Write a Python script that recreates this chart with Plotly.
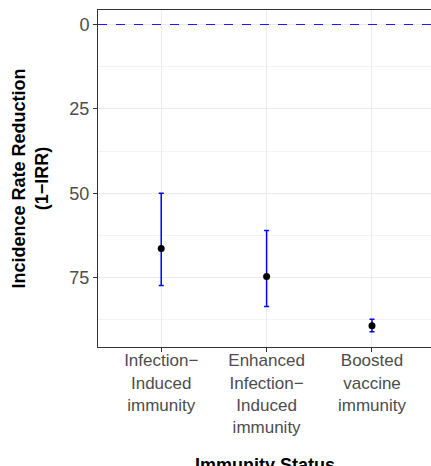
import plotly.graph_objects as go

categories = ["Infection−<br>Induced<br>immunity",
              "Enhanced<br>Infection−<br>Induced<br>immunity",
              "Boosted<br>vaccine<br>immunity"]
estimates = [66.3, 74.6, 89.2]
ci_lower = [50.0, 61.0, 87.3]
ci_upper = [77.3, 83.5, 91.0]
y_ticks = [0, 25, 50, 75]
minor_ticks = [12.5, 37.5, 62.5, 87.5]

W, H = 431, 466
ml, mr, mt, mb = 98, 0, 10, 119

fig = go.Figure()
fig.add_trace(go.Scatter(
    x=categories, y=estimates, mode="markers",
    marker=dict(color="black", size=7),
    error_y=dict(type="data", symmetric=False,
                 array=[u - e for u, e in zip(ci_upper, estimates)],
                 arrayminus=[e - l for e, l in zip(estimates, ci_lower)],
                 color="blue", thickness=1.5, width=2.5),
    showlegend=False, hoverinfo="skip"))

fig.add_hline(y=0, line=dict(color="#1a1aff", width=1.2, dash="dash"))

fig.update_layout(
    width=W, height=H,
    margin=dict(l=ml, r=mr, t=mt, b=mb),
    plot_bgcolor="white", paper_bgcolor="white",
    font=dict(family="Liberation Sans, Arial, sans-serif"),
    xaxis=dict(type="category", range=[-0.6, 2.56], automargin=False,
               showgrid=True, gridcolor="#ebebeb", gridwidth=1,
               showline=True, linecolor="#333333", linewidth=1, mirror=True,
               ticks="outside", ticklen=4, tickcolor="#333333",
               ticklabelstandoff=-6,
               tickfont=dict(size=17, color="#4d4d4d"), zeroline=False),
    yaxis=dict(range=[95.5, -4.3], tickvals=y_ticks, automargin=False,
               showgrid=True, gridcolor="#ebebeb", gridwidth=1,
               minor=dict(tickvals=minor_ticks, showgrid=True, gridcolor="#f3f3f3", gridwidth=0.8, ticks=""),
               showline=True, linecolor="#333333", linewidth=1, mirror=True,
               ticks="outside", ticklen=4, tickcolor="#333333",
               tickfont=dict(size=18, color="#4d4d4d"), zeroline=False),
)

fig.add_annotation(text="<b>Incidence Rate Reduction</b><br><b>(1−IRR)</b>",
                   xref="paper", yref="paper",
                   x=(30 - ml) / (W - ml - mr), y=0.5,
                   xanchor="center", yanchor="middle", textangle=-90,
                   showarrow=False, font=dict(size=18, color="black"))
fig.add_annotation(text="<b>Immunity Status</b>",
                   xref="paper", yref="paper",
                   x=0.5, y=-(453 - (H - mb)) / (H - mt - mb),
                   xanchor="center", yanchor="top",
                   showarrow=False, font=dict(size=18, color="black"))

fig.write_html("out.html", config={"displayModeBar": False},
               post_script="document.body.style.margin='0';document.body.style.overflow='hidden';")
